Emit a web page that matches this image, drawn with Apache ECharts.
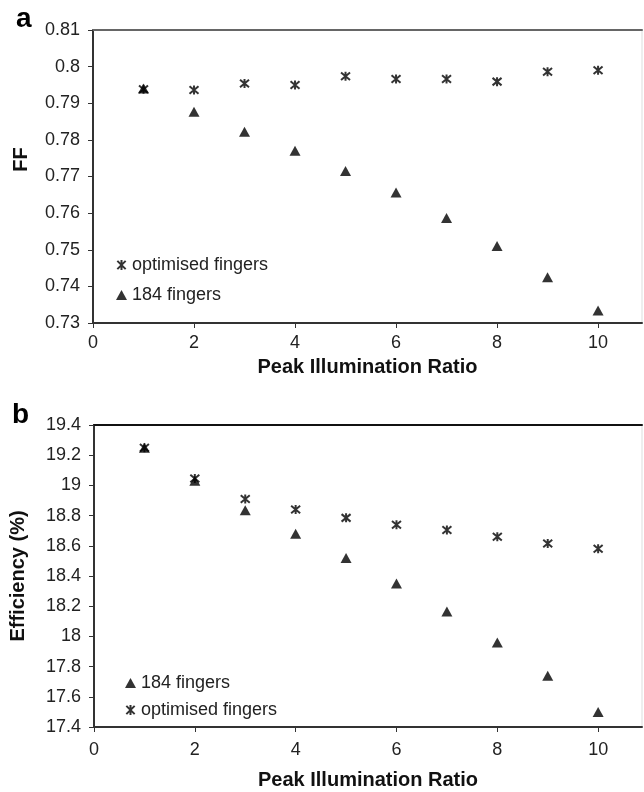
<!DOCTYPE html>
<html>
<head>
<meta charset="utf-8">
<style>
  html, body { margin: 0; padding: 0; background: #fff; }
  #chart { width: 644px; height: 792px; }
</style>
<script src="https://cdn.jsdelivr.net/npm/echarts@6/dist/echarts.min.js"></script>
</head>
<body>
<div id="chart"></div>
<script>
// peak illumination ratio (x)
var ratio = [1, 2, 3, 4, 5, 6, 7, 8, 9, 10];
var xTicks = [0, 2, 4, 6, 8, 10];

// panel a: fill factor
var ffOptimised = [0.7938, 0.7936, 0.7954, 0.7950, 0.7974, 0.7966, 0.7966, 0.7959, 0.7986, 0.7990];
var ff184 = [0.7940, 0.7877, 0.7822, 0.7770, 0.7715, 0.7656, 0.7587, 0.7510, 0.7425, 0.7334];

// panel b: efficiency (%)
var effOptimised = [19.25, 19.045, 18.91, 18.84, 18.785, 18.74, 18.705, 18.66, 18.615, 18.58];
var eff184 = [19.25, 19.03, 18.835, 18.68, 18.52, 18.35, 18.165, 17.96, 17.74, 17.5];

function pairs(xs, ys) {
  return xs.map(function (x, i) { return [x, ys[i]]; });
}

var font = '"Liberation Sans", Arial, sans-serif';
var star = 'path://M0,0L10,10M10,0L0,10M5,-1L5,11';

function xAxisFor(gridIndex, labelMargin, nameGap) {
  return {
    type: 'value', gridIndex: gridIndex, min: 0, max: 10.87, interval: 2,
    name: 'Peak Illumination Ratio', nameLocation: 'middle', nameGap: nameGap,
    nameTextStyle: { fontFamily: font, fontSize: 20, fontWeight: 'bold', color: '#111' },
    axisLine: { lineStyle: { color: '#333', width: 2 } },
    axisTick: { length: 5, lineStyle: { color: '#333' }, customValues: xTicks },
    axisLabel: { fontFamily: font, fontSize: 18, color: '#222', margin: labelMargin, customValues: xTicks },
    splitLine: { show: false }
  };
}

function topBorder(gridIndex, color) {
  return {
    type: 'value', gridIndex: gridIndex, position: 'top', min: 0, max: 10.87,
    axisLine: { show: true, lineStyle: { color: color, width: 2 } },
    axisTick: { show: false }, axisLabel: { show: false }, splitLine: { show: false }
  };
}

function yAxisFor(gridIndex, min, max, interval, name, nameGap, namePad) {
  return {
    type: 'value', gridIndex: gridIndex, min: min, max: max, interval: interval,
    name: name, nameLocation: 'middle', nameGap: nameGap,
    nameTextStyle: { fontFamily: font, fontSize: 20, fontWeight: 'bold', color: '#111', padding: namePad },
    axisLine: { show: true, lineStyle: { color: '#333', width: 2 } },
    axisTick: { show: true, length: 5, lineStyle: { color: '#333' } },
    axisLabel: { fontFamily: font, fontSize: 18, color: '#222', margin: 13 },
    splitLine: { show: false }
  };
}

function starSeries(name, xi, yi, data) {
  return {
    name: name, type: 'scatter', xAxisIndex: xi, yAxisIndex: yi, data: data,
    symbol: star, symbolSize: 9, z: 2,
    itemStyle: { color: 'transparent', borderColor: '#000', borderWidth: 2 }
  };
}

function triSeries(name, xi, yi, data) {
  return {
    name: name, type: 'scatter', xAxisIndex: xi, yAxisIndex: yi, data: data,
    symbol: 'triangle', symbolSize: [11, 10], z: 3,
    itemStyle: { color: '#000' }
  };
}

var chart = echarts.init(document.getElementById('chart'));

var option = {
  animation: false,
  backgroundColor: '#fff',
  title: [
    { text: 'a', left: 11, top: 0, textStyle: { fontFamily: font, fontSize: 28, fontWeight: 'bold', color: '#000' } },
    { text: 'b', left: 7, top: 396, textStyle: { fontFamily: font, fontSize: 28, fontWeight: 'bold', color: '#000' } }
  ],
  legend: [
    {
      orient: 'vertical', left: 116, top: 256, padding: 0, itemGap: 12,
      itemWidth: 11, itemHeight: 10, selectedMode: false,
      data: ['optimised fingers', '184 fingers'],
      textStyle: { fontFamily: font, fontSize: 18, color: '#222' }
    },
    {
      orient: 'vertical', left: 125, top: 674, padding: 0, itemGap: 9,
      itemWidth: 11, itemHeight: 10, selectedMode: false,
      data: ['184 fingers', 'optimised fingers'],
      textStyle: { fontFamily: font, fontSize: 18, color: '#222' }
    }
  ],
  grid: [
    { left: 93, top: 30, right: 2, height: 293, show: true, borderColor: '#ddd', borderWidth: 1 },
    { left: 94, top: 425, right: 2, height: 302, show: true, borderColor: '#ddd', borderWidth: 1 }
  ],
  xAxis: [
    xAxisFor(0, 11, 34),
    xAxisFor(1, 14, 43),
    topBorder(0, '#666'),
    topBorder(1, '#111')
  ],
  yAxis: [
    yAxisFor(0, 0.73, 0.81, 0.01, 'FF', 62, [0, 0, 0, 34]),
    yAxisFor(1, 17.4, 19.4, 0.2, 'Efficiency (%)', 66, 0)
  ],
  series: [
    starSeries('optimised fingers', 0, 0, pairs(ratio, ffOptimised)),
    triSeries('184 fingers', 0, 0, pairs(ratio, ff184)),
    starSeries('optimised fingers', 1, 1, pairs(ratio, effOptimised)),
    triSeries('184 fingers', 1, 1, pairs(ratio, eff184))
  ]
};

chart.setOption(option);
</script>
</body>
</html>
